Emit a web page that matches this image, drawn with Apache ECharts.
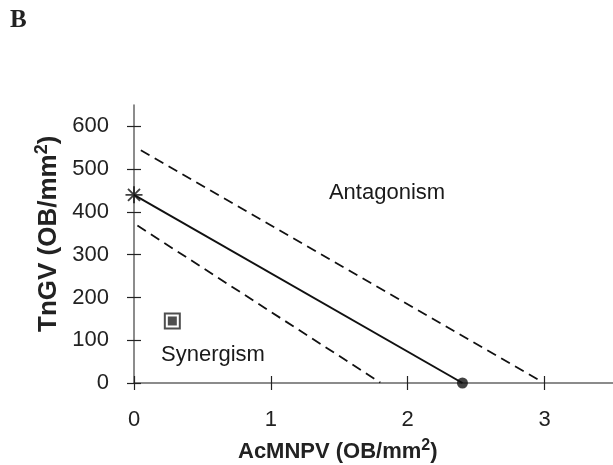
<!DOCTYPE html>
<html>
<head>
<meta charset="utf-8">
<script src="https://cdn.jsdelivr.net/npm/echarts@6/dist/echarts.min.js"></script>
<style>
  html, body { margin: 0; padding: 0; background: #fff; }
  #chart { width: 613px; height: 465px; }
</style>
</head>
<body>
<div id="chart"></div>
<script>
// isobologram values
var xTicks = [0, 1, 2, 3];
var yTicks = [0, 100, 200, 300, 400, 500, 600];
var additiveLine = [[0, 440], [2.4, 0]];
var upperLimit = [[0.05, 544], [2.98, 3]];
var lowerLimit = [[0.025, 368], [1.8, 1]];
var tngvAlone = [[0, 440]];
var acmnpvAlone = [[2.4, 0]];
var mixture = [[0.28, 145]];
var regionNames = ['Antagonism', 'Synergism'];
var regionPos = [[1.417, 444], [0.19, 66]];

var FONT = '"Liberation Sans", Arial, sans-serif';
var AXIS_COL = '#666';

// asterisk marker (8 thin arms)
var starPath = 'path://M8.9 0L11.1 0L11.1 20L8.9 20Z M0 8.9L20 8.9L20 11.1L0 11.1Z ' +
  'M3.71 2.15L17.85 16.29L16.29 17.85L2.15 3.71Z M17.85 3.71L3.71 17.85L2.15 16.29L16.29 2.15Z';

var regionData = regionNames.map(function (n, i) {
  return { name: n, value: regionPos[i] };
});

var chart = echarts.init(document.getElementById('chart'), null, { renderer: 'canvas' });

function valueAxis(pos, min, max, ticks, margin, main) {
  return {
    type: 'value',
    position: pos,
    min: min,
    max: max,
    axisLine: { show: main, onZero: false, lineStyle: { color: AXIS_COL, width: 1.5 } },
    axisTick: {
      show: true,
      inside: !main,
      length: 7,
      customValues: ticks,
      lineStyle: { color: '#222', width: 1.2 }
    },
    axisLabel: {
      show: main,
      customValues: ticks,
      margin: margin,
      fontFamily: FONT,
      fontSize: 22,
      color: '#222'
    },
    splitLine: { show: false }
  };
}

var option = {
  animation: false,
  backgroundColor: '#fff',
  grid: { left: 134, right: 0, top: 105, bottom: 82 },
  xAxis: [
    valueAxis('bottom', 0, 3.5, xTicks, 26, true),
    valueAxis('bottom', 0, 3.5, xTicks, 26, false)
  ],
  yAxis: [
    valueAxis('left', 0, 650, yTicks, 25, true),
    valueAxis('left', 0, 650, yTicks, 25, false)
  ],
  graphic: [
    {
      type: 'text', left: 10, top: 8,
      style: { text: 'B', font: 'bold 25px "Liberation Serif", serif', fill: '#222' }
    },
    {
      type: 'text', x: 238, y: 438,
      style: {
        text: 'AcMNPV (OB/mm{s|2})',
        font: 'bold 22px ' + FONT,
        fill: '#222',
        rich: { s: { fontSize: 16, fontWeight: 'bold', fontFamily: FONT, verticalAlign: 'top', padding: [0, 0, 12, 0] } }
      }
    },
    {
      type: 'text', x: 33, y: 332, rotation: Math.PI / 2,
      style: {
        text: 'TnGV (OB/mm{s|2})',
        font: 'bold 26px ' + FONT,
        fill: '#222',
        rich: { s: { fontSize: 18, fontWeight: 'bold', fontFamily: FONT, verticalAlign: 'top', padding: [0, 0, 14, 0] } }
      }
    }
  ],
  series: [
    {
      type: 'line', data: upperLimit, symbol: 'none',
      lineStyle: { color: '#111', width: 1.8, type: [10, 6] }
    },
    {
      type: 'line', data: lowerLimit, symbol: 'none',
      lineStyle: { color: '#111', width: 1.8, type: [10, 6] }
    },
    {
      type: 'line', data: additiveLine, symbol: 'none',
      lineStyle: { color: '#111', width: 2 }
    },
    {
      type: 'scatter', data: tngvAlone, symbol: starPath, symbolSize: 17,
      itemStyle: { color: '#111' }
    },
    {
      type: 'scatter', data: acmnpvAlone, symbol: 'circle', symbolSize: 11,
      itemStyle: { color: '#111' }
    },
    {
      type: 'scatter', data: mixture, symbol: 'rect', symbolSize: 15,
      itemStyle: { color: '#fff', borderColor: '#222', borderWidth: 2 }
    },
    {
      type: 'scatter', data: mixture, symbol: 'rect', symbolSize: 9,
      itemStyle: { color: '#222' }
    },
    {
      type: 'scatter', data: regionData, symbol: 'circle', symbolSize: 2, silent: true,
      itemStyle: { color: '#fff', opacity: 1 },
      label: {
        show: true, position: 'right', distance: 0, opacity: 1,
        formatter: '{b}', fontFamily: FONT, fontSize: 22, color: '#1a1a1a'
      }
    }
  ]
};

chart.setOption(option);
</script>
</body>
</html>
